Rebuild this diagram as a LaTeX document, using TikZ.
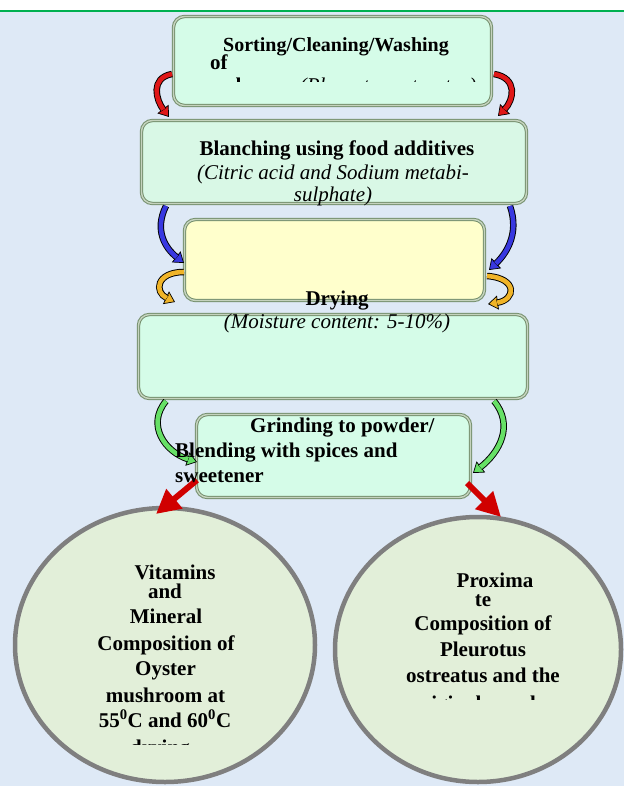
\documentclass[tikz,border=0pt]{standalone}
\usepackage{fontspec}
\setmainfont{Liberation Serif}
\usetikzlibrary{arrows.meta,shapes.geometric}
\definecolor{bgblue}{HTML}{DEE9F6}
\definecolor{gline}{HTML}{00B050}
\definecolor{mint}{HTML}{D5FCE8}
\definecolor{mint2}{HTML}{D9F8E6}
\definecolor{paleyel}{HTML}{FFFFCC}
\definecolor{bordg}{HTML}{76906E}
\definecolor{bordl}{HTML}{C5D3BE}
\definecolor{circfill}{HTML}{E2EFD9}
\definecolor{circline}{HTML}{7F7F7F}
\definecolor{ared}{HTML}{E01818}
\definecolor{ablue}{HTML}{3838E0}
\definecolor{ayel}{HTML}{F0B428}
\definecolor{agreen}{HTML}{66E066}
\definecolor{sred}{HTML}{D00000}
\newcommand\bentarrow[2]{%
  \draw[black, line width=0.7pt, -{Triangle[length=10pt,width=14pt,fill=#1]}] #2;
  \draw[black, line width=6.5pt, shorten >=9pt] #2;
  \draw[#1, line width=4.6pt, shorten >=9.3pt] #2;}
\begin{document}
\begin{tikzpicture}[x=1pt,y=-1pt,
  flowbox/.style={draw=bordg, double=bordl, double distance=1.4pt, line width=1pt,
    rounded corners=11pt, inner sep=0pt},
  circbox/.style={ellipse, draw=circline, line width=4.5pt, fill=circfill, inner sep=0pt},
  txt/.style={font=\fontsize{21}{24}\selectfont\bfseries, inner sep=0pt, anchor=base},
  itxt/.style={font=\fontsize{21}{24}\selectfont\itshape, inner sep=0pt, anchor=base},
  straightarrow/.style={sred, line width=6pt, -{Triangle[length=24pt,width=24pt]}}]
\useasboundingbox (0,0) rectangle (624,786);
\fill[white] (0,0) rectangle (624,786);
\fill[bgblue] (0,11) rectangle (624,786);
\draw[gline, line width=1.2pt] (0,11) -- (624,11);

% boxes
\node[flowbox, fill=mint, minimum width=318pt, minimum height=89pt] (b1) at (332.5,61) {};
\node[flowbox, fill=mint2, minimum width=385pt, minimum height=83pt] (b2) at (334,162) {};
\node[flowbox, fill=paleyel, minimum width=300pt, minimum height=81pt] (b3) at (334.5,260) {};
\node[flowbox, fill=mint, minimum width=389pt, minimum height=84pt] (b4) at (333,356.5) {};
\node[flowbox, fill=mint, minimum width=274pt, minimum height=83pt] (b5) at (333.5,456) {};

% ellipses
\node[circbox, minimum width=300pt, minimum height=274pt] (c1) at (165,645) {};
\node[circbox, minimum width=286pt, minimum height=265pt] (c2) at (478,649.5) {};

% curved arrow end points
\coordinate (ra1) at (172,74);  \coordinate (ra2) at (169,117);
\coordinate (rb1) at (494,74);  \coordinate (rb2) at (498,116);
\coordinate (ba1) at (166,206); \coordinate (ba2) at (184,263);
\coordinate (bb1) at (510,206); \coordinate (bb2) at (489,270);
\coordinate (ya1) at (184,272); \coordinate (ya2) at (175,302);
\coordinate (yb1) at (487,276); \coordinate (yb2) at (488,304);
\coordinate (ga1) at (166,401); \coordinate (ga2) at (197,462);
\coordinate (gb1) at (494,401); \coordinate (gb2) at (473,473);

\bentarrow{ared}{(ra1) .. controls (150,78) and (156,100) .. (ra2)}
\bentarrow{ared}{(rb1) .. controls (518,78) and (514,100) .. (rb2)}
\bentarrow{ablue}{(ba1) .. controls (154,230) and (165,248) .. (ba2)}
\bentarrow{ablue}{(bb1) .. controls (520,235) and (505,255) .. (bb2)}
\bentarrow{ayel}{(ya1) .. controls (156,272) and (154,292) .. (ya2)}
\bentarrow{ayel}{(yb1) .. controls (518,278) and (516,300) .. (yb2)}
\bentarrow{agreen}{(ga1) .. controls (146,425) and (165,452) .. (ga2)}
\bentarrow{agreen}{(gb1) .. controls (514,425) and (500,452) .. (gb2)}

% straight red arrows
\coordinate (sa1) at (197,480); \coordinate (sa2) at (156,514);
\coordinate (sb1) at (467,483); \coordinate (sb2) at (501,517);
\draw[straightarrow] (sa1) -- (sa2);
\draw[straightarrow] (sb1) -- (sb2);

% texts box 1
\node[txt, font=\fontsize{20}{24}\selectfont\bfseries] (t1a) at (336,52) {Sorting/Cleaning/Washing};
\node[txt, anchor=base west] (t1b) at (210,70) {of};
\begin{scope}
  \clip (172,72) rectangle (493,81.5);
  \node[txt, anchor=base west] (t1c) at (198,92.5) {mushroom \textit{\mdseries(Pleurotus ostreatus)}};
\end{scope}
% box 2
\node[txt] (t2a) at (337,156) {Blanching using food additives};
\node[itxt] (t2b) at (333,180) {(Citric acid and Sodium metabi-};
\node[itxt] (t2c) at (333,202) {sulphate)};
% box 3
\node[txt] (t3a) at (337,305) {Drying};
\node[itxt] (t3b) at (337,328) {(Moisture content: 5-10\%)};
% box 5
\node[txt, anchor=base west] (t5a) at (250,432) {Grinding to powder/};
\node[txt, anchor=base west] (t5b) at (175,457) {Blending with spices and};
\node[txt, anchor=base west] (t5c) at (175,482) {sweetener};
% left ellipse
\node[txt] (l1) at (175,579) {Vitamins};
\node[txt] (l2) at (165,598) {and};
\node[txt] (l3) at (166,623) {Mineral};
\node[txt] (l4) at (166,650) {Composition of};
\node[txt] (l5) at (165.5,675) {Oyster};
\node[txt] (l6) at (165.5,702) {mushroom at};
\node[txt] (l7) at (165,727) {55\textsuperscript{0}C and 60\textsuperscript{0}C};
\begin{scope}
  \clip (20,730) rectangle (310,744);
  \node[txt] (l8) at (160,754.5) {drying};
\end{scope}
% right ellipse
\node[txt] (r1) at (495,587) {Proxima};
\node[txt] (r2) at (483,606) {te};
\node[txt] (r3) at (483,630) {Composition of};
\node[txt] (r4) at (483,656) {Pleurotus};
\node[txt] (r5) at (483,682) {ostreatus and the};
\begin{scope}
  \clip (340,686) rectangle (620,699.5);
  \node[txt] (r6) at (483,710.5) {original powder};
\end{scope}
\end{tikzpicture}
\end{document}
